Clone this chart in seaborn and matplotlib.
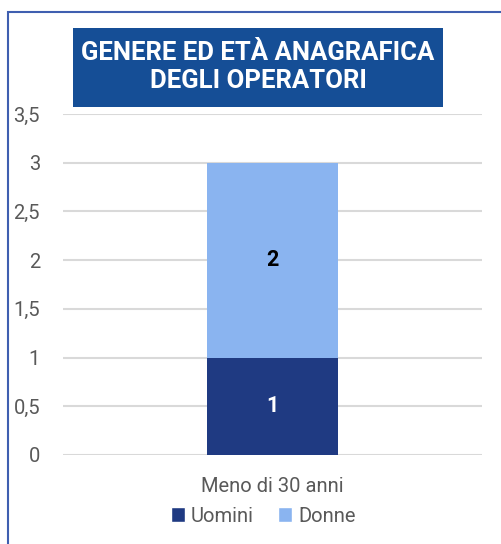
import matplotlib
matplotlib.use("Agg")
import matplotlib.pyplot as plt
from matplotlib.patches import Patch, Rectangle
import seaborn as sns
import pandas as pd

categories = ["Meno di 30 anni"]
uomini = [1]
donne = [2]
series_names = ["Uomini", "Donne"]
yticks = [0, 0.5, 1, 1.5, 2, 2.5, 3, 3.5]
ytick_labels = ["0", "0,5", "1", "1,5", "2", "2,5", "3", "3,5"]
title_lines = ["GENERE ED ETÀ ANAGRAFICA", "DEGLI OPERATORI"]

DARK = "#1f3a82"
LIGHT = "#8ab4f0"
GREY = "#595959"

def main():
    sns.set_style("white")
    plt.rcParams["font.family"] = ["Roboto", "DejaVu Sans"]

    df = pd.DataFrame({"cat": categories, "Uomini": uomini, "Donne": donne})
    df["Totale"] = df["Uomini"] + df["Donne"]

    W, H = 501, 544
    fig = plt.figure(figsize=(W / 100, H / 100), dpi=100)

    # outer frame (runs past the right and bottom edges)
    fig.patches.append(Rectangle((8 / W, -0.05), 1.2, 1 - 12 / H + 0.05,
                                 transform=fig.transFigure, fill=False,
                                 edgecolor="#3f5fb0", linewidth=1.5))

    ax = fig.add_axes([63 / W, (H - 455) / H, (482 - 63) / W, (455 - 114) / H])
    sns.barplot(data=df, x="cat", y="Totale", color=LIGHT, width=0.315,
                saturation=1, linewidth=0, ax=ax)
    sns.barplot(data=df, x="cat", y="Uomini", color=DARK, width=0.315,
                saturation=1, linewidth=0, ax=ax)

    ax.set_xlim(-0.5, 0.5)
    ax.set_ylim(0, 3.5)
    ax.set_yticks(yticks)
    ax.set_yticklabels(ytick_labels)
    ax.yaxis.grid(True, color="#d9d9d9", linewidth=1.5)
    ax.set_axisbelow(True)
    for s in ax.spines.values():
        s.set_visible(False)
    ax.tick_params(axis="y", length=0, pad=16.5, labelsize=14.5, labelcolor=GREY)
    ax.tick_params(axis="x", length=0, pad=16, labelsize=14.5, labelcolor=GREY)
    ax.set_xlabel("")
    ax.set_ylabel("")

    # value labels
    for i, (u, d) in enumerate(zip(uomini, donne)):
        ax.text(i, u / 2, str(u), ha="center", va="center", color="white",
                fontsize=15.5, fontweight="bold")
        ax.text(i, u + d / 2, str(d), ha="center", va="center", color="black",
                fontsize=15.5, fontweight="bold")

    # title box
    fig.patches.append(Rectangle((73 / W, (H - 107) / H), (443 - 73) / W, 79 / H,
                                 transform=fig.transFigure, facecolor="#154e96",
                                 edgecolor="none", zorder=3))
    fig.text(258 / W, (H - 67) / H, "\n".join(title_lines), ha="center", va="center",
             color="white", fontsize=18.5, fontweight="bold", linespacing=1.25, zorder=4)

    handles = [Patch(facecolor=DARK), Patch(facecolor=LIGHT)]
    fig.legend(handles, series_names, loc="center", bbox_to_anchor=(263 / W, (H - 516) / H),
               ncol=2, frameon=False, fontsize=14.5, labelcolor=GREY,
               handlelength=0.7, handleheight=0.7, handletextpad=0.3, columnspacing=1.2)

    fig.savefig("out.png", dpi=100)

if __name__ == "__main__":
    main()
